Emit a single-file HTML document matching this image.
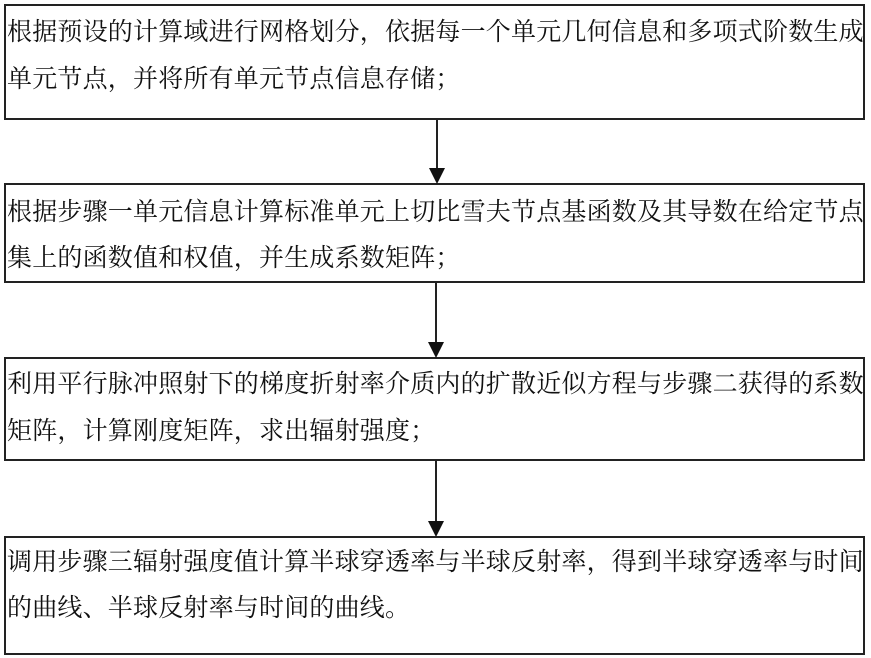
<!DOCTYPE html>
<html><head><meta charset="utf-8"><style>
body{margin:0;width:871px;height:658px;background:#fff;position:relative;overflow:hidden;font-family:"Liberation Serif","Noto Serif CJK SC",serif;color:#111}
.b{position:absolute;left:4px;width:861px;border:2px solid #222;box-sizing:border-box}
.t{position:absolute;left:7px;font-size:25px;letter-spacing:0.2px;white-space:nowrap;line-height:30px}
.l{position:absolute;width:2px;background:#222}
.a{position:absolute;width:0;height:0;border-left:8px solid transparent;border-right:8px solid transparent;border-top:16px solid #111}
</style></head><body>
<div class="b" style="top:4px;height:116px"></div>
<div class="b" style="top:183px;height:100px"></div>
<div class="b" style="top:357px;height:104px"></div>
<div class="b" style="top:536px;height:119px"></div>
<div class="t" style="top:18px">根据预设的计算域进行网格划分，依据每一个单元几何信息和多项式阶数生成</div>
<div class="t" style="top:65px">单元节点，并将所有单元节点信息存储；</div>
<div class="t" style="top:198px">根据步骤一单元信息计算标准单元上切比雪夫节点基函数及其导数在给定节点</div>
<div class="t" style="top:244px">集上的函数值和权值，并生成系数矩阵；</div>
<div class="t" style="top:370px">利用平行脉冲照射下的梯度折射率介质内的扩散近似方程与步骤二获得的系数</div>
<div class="t" style="top:417px">矩阵，计算刚度矩阵，求出辐射强度；</div>
<div class="t" style="top:548px">调用步骤三辐射强度值计算半球穿透率与半球反射率，得到半球穿透率与时间</div>
<div class="t" style="top:594px">的曲线、半球反射率与时间的曲线。</div>
<div class="l" style="left:436px;top:120px;height:50px"></div>
<div class="a" style="left:429px;top:168px"></div>
<div class="l" style="left:435px;top:283px;height:60px"></div>
<div class="a" style="left:428px;top:342px"></div>
<div class="l" style="left:435px;top:461px;height:62px"></div>
<div class="a" style="left:428px;top:521px"></div>
</body></html>
